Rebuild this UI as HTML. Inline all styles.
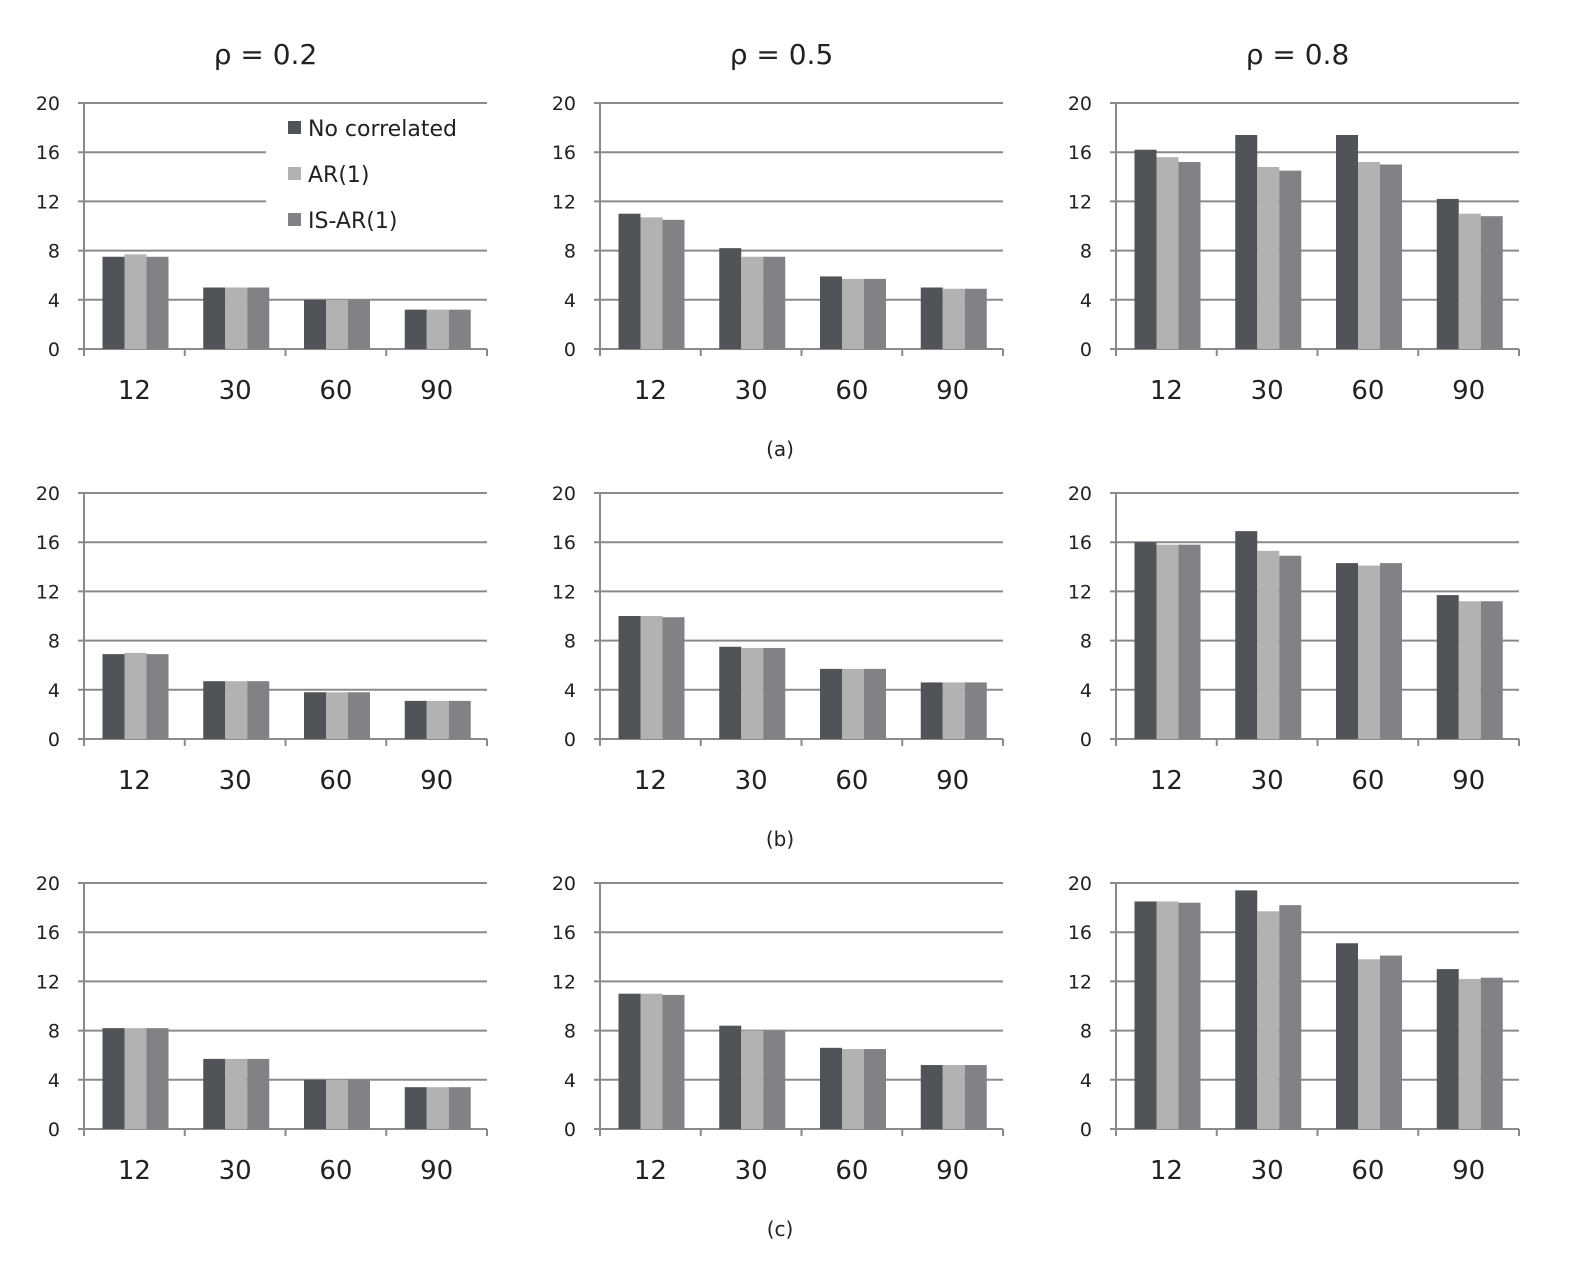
<!DOCTYPE html>
<html><head><meta charset="utf-8"><style>body{margin:0;background:#fff}svg{display:block}text{font-family:"DejaVu Sans","Liberation Sans",sans-serif;fill:#222}</style></head>
<body><svg id="s" width="1582" height="1268" xmlns="http://www.w3.org/2000/svg"></svg>
<script>
const D=[
[[[7.5,7.7,7.5],[5,5,5],[4,4,4],[3.2,3.2,3.2]],
 [[11,10.7,10.5],[8.2,7.5,7.5],[5.9,5.7,5.7],[5,4.9,4.9]],
 [[16.2,15.6,15.2],[17.4,14.8,14.5],[17.4,15.2,15],[12.2,11,10.8]]],
[[[6.9,7.0,6.9],[4.7,4.7,4.7],[3.8,3.8,3.8],[3.1,3.1,3.1]],
 [[10,10,9.9],[7.5,7.4,7.4],[5.7,5.7,5.7],[4.6,4.6,4.6]],
 [[16,15.8,15.8],[16.9,15.3,14.9],[14.3,14.1,14.3],[11.7,11.2,11.2]]],
[[[8.2,8.2,8.2],[5.7,5.7,5.7],[4,4,4],[3.4,3.4,3.4]],
 [[11,11,10.9],[8.4,8,8],[6.6,6.5,6.5],[5.2,5.2,5.2]],
 [[18.5,18.5,18.4],[19.4,17.7,18.2],[15.1,13.8,14.1],[13,12.2,12.3]]]];
const C=['#505458','#b2b2b2','#808285'];
const X0=[84,600,1116],Y0=[349,739,1129],W=403,H=246;
let h='';
['ρ = 0.2','ρ = 0.5','ρ = 0.8'].forEach((t,i)=>h+=`<text x="${X0[i]+W/2-20}" y="64" font-size="28" text-anchor="middle">${t}</text>`);
['(a)','(b)','(c)'].forEach((t,r)=>h+=`<text x="780" y="${Y0[r]+107}" font-size="20" text-anchor="middle">${t}</text>`);
for(let r=0;r<3;r++)for(let c=0;c<3;c++){
 const x0=X0[c],y0=Y0[r],u=H/20;
 for(let v=0;v<=20;v+=4){const y=y0-v*u;
  let x2=x0+W; if(r==0&&c==0&&(v==16||v==12))x2=266;
  h+=`<line x1="${x0-6}" y1="${y}" x2="${x2}" y2="${y}" stroke="#8a8a8a" stroke-width="2"/>`;
  h+=`<text x="${x0-24}" y="${y+7}" font-size="19" text-anchor="end">${v}</text>`;}
 h+=`<line x1="${x0}" y1="${y0-H}" x2="${x0}" y2="${y0}" stroke="#8a8a8a" stroke-width="2"/>`;
 const cw=W/4;
 for(let k=0;k<=4;k++)h+=`<line x1="${x0+k*cw}" y1="${y0}" x2="${x0+k*cw}" y2="${y0+7}" stroke="#8a8a8a" stroke-width="2"/>`;
 ['12','30','60','90'].forEach((l,k)=>{
  const gx=x0+k*cw+18.5;
  D[r][c][k].forEach((v,j)=>{h+=`<rect x="${gx+j*22}" y="${y0-v*u}" width="22" height="${v*u}" fill="${C[j]}"/>`;});
  h+=`<text x="${x0+k*cw+cw/2}" y="${y0+50}" font-size="26" text-anchor="middle">${l}</text>`;});
}
['No  correlated','AR(1)','IS-AR(1)'].forEach((t,j)=>{const y=128+j*46;
 h+=`<rect x="288" y="${y-7}" width="13" height="13" fill="${C[j]}"/><text x="308" y="${y+8}" font-size="22">${t}</text>`;});
document.getElementById('s').innerHTML=h;
</script></body></html>
